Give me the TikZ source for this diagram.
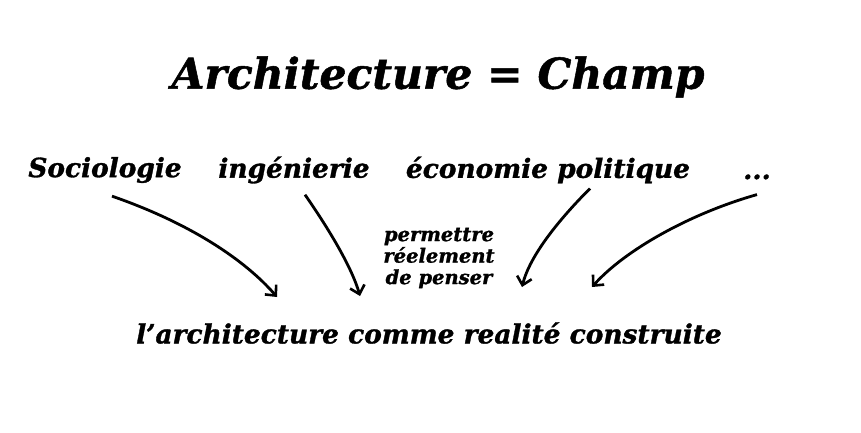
\documentclass[tikz,border=0pt]{standalone}
\usepackage{fontspec}
\setmainfont[BoldItalicFeatures={FakeBold=1.2}]{DejaVu Serif}
\usetikzlibrary{arrows.meta}
\begin{document}
\begin{tikzpicture}[x=1pt,y=-1pt,
  lbl/.style={font=\bfseries\itshape\fontsize{26.4}{28}\selectfont, inner sep=0pt},
  small/.style={font=\bfseries\itshape\fontsize{19.5}{21.5}\selectfont, inner sep=0pt, align=center},
  arr/.style={line width=2.8pt, -{Straight Barb[length=8pt,width=15pt,line width=2.6pt]}}]
\useasboundingbox[fill=white] (0,0) rectangle (861,432);
\node[font=\bfseries\itshape\fontsize{42.5}{46}\selectfont, inner sep=0pt] (title) at (438,77) {Architecture = Champ};
\node[lbl] (soc) at (105,170) {Sociologie};
\node[lbl] (ing) at (294,170) {ingénierie};
\node[lbl] (eco) at (548,170) {économie politique};
\node[lbl, anchor=base] (dots) at (757,179) {...};
\node[small] (perm) at (439,258) {permettre\\réelement\\de penser};
\node[lbl] (arch) at (429,333) {l’architecture comme realité construite};
\coordinate (e1) at (277,297);
\coordinate (e2) at (360,296);
\coordinate (e3) at (522,287);
\coordinate (e4) at (592,287);
\draw[arr] (soc.south) ++(7,13) .. controls +(78,27) and (245,260) .. (e1);
\draw[arr] (ing.south) ++(11,11) .. controls +(25,36) and (352,268) .. (e2);
\draw[arr] (eco.south) ++(42,5) .. controls +(-30,30) and (530,255) .. (e3);
\draw[arr] (dots.south) ++(0,15) .. controls +(-67,19) and (625,250) .. (e4);
\end{tikzpicture}
\end{document}
